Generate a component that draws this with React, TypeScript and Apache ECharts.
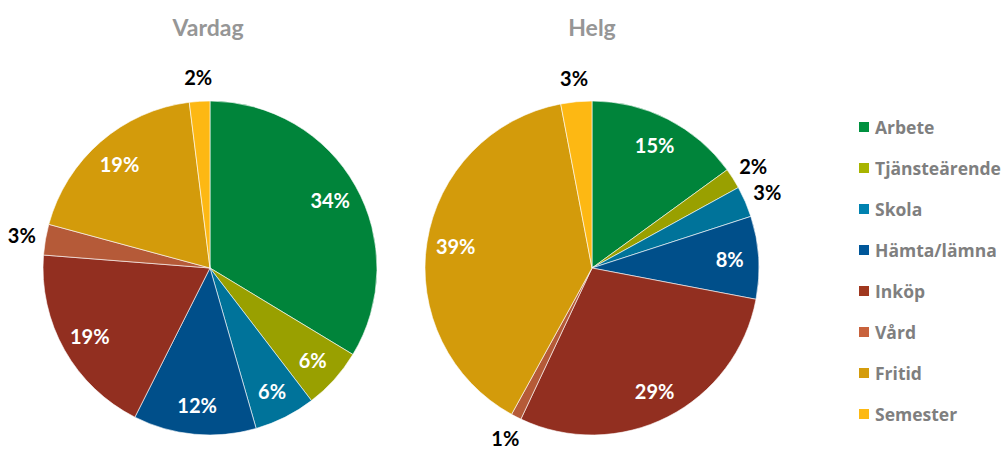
import React, { useEffect, useRef } from "react";
import * as echarts from "echarts";

const categories = ["Arbete", "Tjänsteärende", "Skola", "Hämta/lämna", "Inköp", "Vård", "Fritid", "Semester"];
const vardagValues = [34, 6, 6, 12, 19, 3, 19, 2];
const helgValues = [15, 2, 3, 8, 29, 1, 39, 3];
const colors = ["#00843A", "#99A000", "#00739A", "#004F8A", "#922F20", "#B55A38", "#D39B0B", "#FDB813"];
const legendColors = ["#00913F", "#A8B400", "#0082B0", "#00579A", "#A0381F", "#C8623C", "#D49C0C", "#FDB913"];
const titles = ["Vardag", "Helg"];

const FONT = "Lato";
const R = 167;
const INSIDE_MIN = 5;

function buildSeries(values: number[], center: [number, number], idx: number) {
  const main = {
    type: "pie",
    name: titles[idx],
    center,
    radius: [0, R],
    startAngle: 90,
    clockwise: true,
    avoidLabelOverlap: false,
    label: { show: false },
    labelLine: { show: false },
    itemStyle: { borderColor: "#ffffff", borderWidth: 0.6 },
    emphasis: { disabled: true },
    data: categories.map((name, i) => ({ name, value: values[i], itemStyle: { color: colors[i] } })),
  };
  const overlay = (radius: number, inside: boolean) => ({
    type: "pie",
    center,
    radius: [0, radius],
    startAngle: 90,
    clockwise: true,
    silent: true,
    legendHoverLink: false,
    avoidLabelOverlap: false,
    emphasis: { disabled: true },
    itemStyle: { color: "rgba(0,0,0,0)", borderWidth: 0 },
    labelLine: { show: false },
    data: categories.map((name, i) => ({
      name,
      value: values[i],
      itemStyle: { color: "rgba(0,0,0,0)" },
      label: {
        show: inside ? values[i] >= INSIDE_MIN : values[i] < INSIDE_MIN,
        position: "inside",
        formatter: "{c}%",
        color: inside ? "#ffffff" : "#000000",
        fontFamily: FONT,
        fontWeight: "bold",
        fontSize: 20,
      },
    })),
  });
  return [main, overlay(270, true), overlay(376, false)];
}

export default function App() {
  const ref = useRef<HTMLDivElement>(null);
  useEffect(() => {
    if (!ref.current) return;
    const chart = echarts.init(ref.current, null, { renderer: "svg" });
    const titleStyle = { fontFamily: FONT, fontWeight: "bold", fontSize: 23, color: "#969696" };
    chart.setOption({
      animation: false,
      backgroundColor: "#ffffff",
      title: [
        { text: titles[0], left: 208, top: 15, padding: 0, textAlign: "center", textStyle: titleStyle },
        { text: titles[1], left: 592, top: 15, padding: 0, textAlign: "center", textStyle: titleStyle },
      ],
      legend: {
        orient: "vertical",
        left: 857,
        top: 118,
        padding: 0,
        itemWidth: 12,
        itemHeight: 12,
        itemGap: 23,
        icon: "rect",
        selectedMode: false,
        textStyle: { fontFamily: "Open Sans", fontWeight: "bold", fontSize: 17.5, color: "#7F7F7F", lineHeight: 18, height: 18 },
        data: categories.map((name, i) => ({ name, itemStyle: { color: legendColors[i] } })),
      },
      series: [...buildSeries(vardagValues, [210, 268], 0), ...buildSeries(helgValues, [592, 268], 1)],
    });
    return () => chart.dispose();
  }, []);
  return <div ref={ref} style={{ position: "fixed", left: 0, top: 0, width: 1005, height: 449 }} />;
}
